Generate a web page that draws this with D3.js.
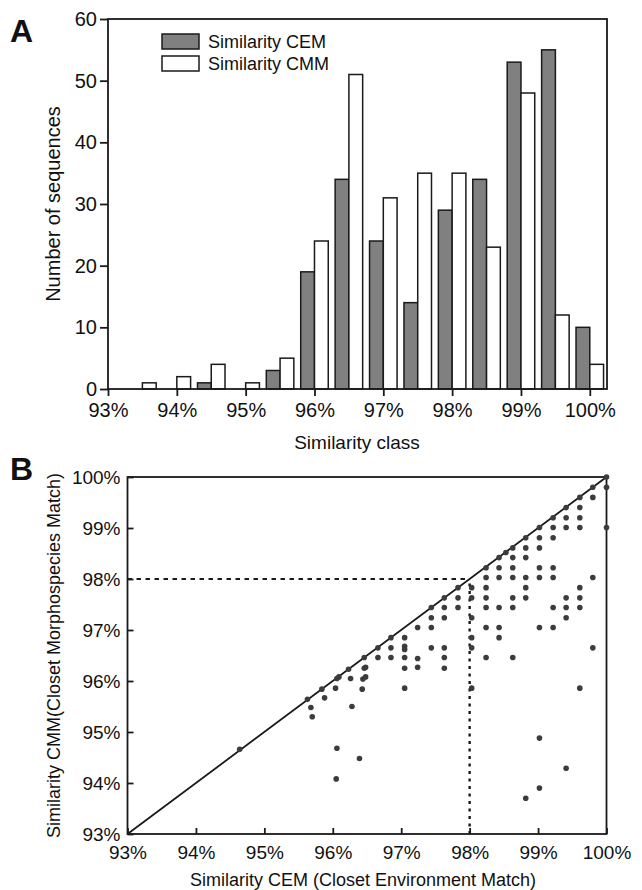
<!DOCTYPE html>
<html>
<head>
<meta charset="utf-8">
<script src="https://cdn.jsdelivr.net/npm/d3@7"></script>
<style>
  body { margin: 0; background: #fff; }
  svg text { font-family: "Liberation Sans", Arial, sans-serif; fill: #111; }
</style>
</head>
<body>
<div id="chart"></div>
<script>
// Panel A: histogram of similarity classes
const classes = [93.5, 94, 94.5, 95, 95.5, 96, 96.5, 97, 97.5, 98, 98.5, 99, 99.5, 100]
const cemCounts = [0, 0, 1, 0, 3, 19, 34, 24, 14, 29, 34, 53, 55, 10]
const cmmCounts = [1, 2, 4, 1, 5, 24, 51, 31, 35, 35, 23, 48, 12, 4]
const countTicks = [0, 10, 20, 30, 40, 50, 60]
const pctTicks = [93, 94, 95, 96, 97, 98, 99, 100]
const seriesNames = ["Similarity CEM", "Similarity CMM"]

// Panel B: CEM vs CMM similarity per sequence (%)
const cemSim = [
  100, 100, 100,
  99.8, 99.8, 99.8, 99.8,
  99.61, 99.61, 99.61, 99.61, 99.61, 99.61, 99.61, 99.61,
  99.41, 99.41, 99.41, 99.41, 99.41, 99.41, 99.41,
  99.22, 99.22, 99.22, 99.22, 99.22, 99.22, 99.22,
  99.02, 99.02, 99.02, 99.02, 99.02, 99.02, 99.02, 99.02,
  98.82, 98.82, 98.82, 98.82, 98.82, 98.82, 98.82,
  98.63, 98.63, 98.63, 98.63, 98.63, 98.63, 98.63,
  98.53,
  98.43, 98.43, 98.43, 98.43, 98.43, 98.43,
  98.24, 98.24, 98.24, 98.24, 98.24, 98.24, 98.24,
  98.03, 98.03, 98.03, 98.03, 98.03, 98.03,
  97.83, 97.83, 97.83,
  97.63, 97.63, 97.63, 97.63, 97.63, 97.63,
  97.44, 97.44, 97.44, 97.44,
  97.24, 97.24, 97.24,
  97.05, 97.05, 97.05, 97.05, 97.05, 97.05,
  96.85, 96.85, 96.85,
  96.66, 96.66,
  96.46, 96.46, 96.48, 96.44, 96.48, 96.43,
  96.39,
  96.23, 96.26, 96.28,
  96.04, 96.06, 96.09, 96.06, 96.05,
  95.84, 95.88,
  95.63, 95.68, 95.7,
  94.64
]
const cmmSim = [
  100, 99.8, 99.01,
  99.8, 99.6, 98.03, 96.65,
  99.6, 99.4, 99.2, 99.01, 97.83, 97.63, 97.44, 95.86,
  99.4, 99.2, 99.01, 97.63, 97.44, 97.24, 94.29,
  99.2, 99.01, 98.81, 98.22, 98.03, 97.44, 97.05,
  99.01, 98.81, 98.61, 98.22, 98.03, 97.05, 94.88, 93.9,
  98.81, 98.61, 98.42, 98.03, 97.83, 97.63, 93.7,
  98.61, 98.42, 98.22, 98.03, 97.63, 97.44, 96.46,
  98.52,
  98.42, 98.22, 98.03, 97.44, 97.05, 96.85,
  98.22, 98.03, 97.83, 97.63, 97.44, 97.05, 96.46,
  97.83, 97.63, 97.24, 96.85, 96.65, 95.86,
  97.83, 97.63, 97.44,
  97.63, 97.44, 97.24, 96.65, 96.46, 96.25,
  97.44, 97.24, 97.05, 96.65,
  97.05, 96.44, 96.27,
  96.85, 96.68, 96.62, 96.46, 96.25, 95.86,
  96.85, 96.65, 96.46,
  96.65, 96.46,
  96.46, 96.25, 96.27, 96.04, 96.08, 95.84,
  94.48,
  96.23, 96.05, 95.5,
  95.86, 96.05, 96.08, 94.68, 94.08,
  95.84, 95.67,
  95.64, 95.48, 95.3,
  94.66
]
const cutoff = 98

const width = 642
const height = 890
const ink = "#1a1a1a"

const svg = d3.select("#chart")
  .append("svg")
  .attr("width", width)
  .attr("height", height)
  .attr("viewBox", [0, 0, width, height])

// ---------- Panel A ----------
const xA = d3.scaleLinear().domain([93, 100.25]).range([108, 607])
const yA = d3.scaleLinear().domain([0, 60]).range([389, 19])
const barW = 0.2

const gA = svg.append("g")

gA.append("g")
  .selectAll("rect")
  .data(classes.map((c, i) => ({c: c, v: cemCounts[i]})).filter(d => d.v > 0))
  .join("rect")
    .attr("x", d => xA(d.c - barW))
    .attr("y", d => yA(d.v))
    .attr("width", d => xA(d.c) - xA(d.c - barW))
    .attr("height", d => yA(0) - yA(d.v))
    .attr("fill", "#808080")
    .attr("stroke", ink)
    .attr("stroke-width", 1.5)

gA.append("g")
  .selectAll("rect")
  .data(classes.map((c, i) => ({c: c, v: cmmCounts[i]})).filter(d => d.v > 0))
  .join("rect")
    .attr("x", d => xA(d.c))
    .attr("y", d => yA(d.v))
    .attr("width", d => xA(d.c + barW) - xA(d.c))
    .attr("height", d => yA(0) - yA(d.v))
    .attr("fill", "#fff")
    .attr("stroke", ink)
    .attr("stroke-width", 1.5)

// frame
gA.append("rect")
  .attr("x", xA.range()[0])
  .attr("y", yA.range()[1])
  .attr("width", xA.range()[1] - xA.range()[0])
  .attr("height", yA.range()[0] - yA.range()[1])
  .attr("fill", "none")
  .attr("stroke", ink)
  .attr("stroke-width", 1.8)

const axA_x = gA.append("g")
  .attr("transform", `translate(0,${yA(0)})`)
  .call(d3.axisBottom(xA).tickValues(pctTicks).tickSize(7).tickPadding(7).tickFormat(d => d + "%"))
const axA_y = gA.append("g")
  .attr("transform", `translate(${xA(93)},0)`)
  .call(d3.axisLeft(yA).tickValues(countTicks).tickSize(8).tickPadding(3))

;[axA_x, axA_y].forEach(a => {
  a.select(".domain").remove()
  a.selectAll(".tick line").attr("stroke", ink).attr("stroke-width", 1.8)
  a.selectAll(".tick text").attr("font-size", 20).attr("fill", ink)
})

gA.append("text")
  .attr("x", 357)
  .attr("y", 449)
  .attr("text-anchor", "middle")
  .attr("font-size", 19)
  .text("Similarity class")

gA.append("text")
  .attr("transform", `translate(60,${(yA(0) + yA(60)) / 2}) rotate(-90)`)
  .attr("text-anchor", "middle")
  .attr("font-size", 20)
  .text("Number of sequences")

// legend
const legend = gA.append("g")
seriesNames.forEach((name, i) => {
  legend.append("rect")
    .attr("x", 162)
    .attr("y", 34 + i * 22)
    .attr("width", 37)
    .attr("height", 15)
    .attr("fill", i === 0 ? "#808080" : "#fff")
    .attr("stroke", ink)
    .attr("stroke-width", 1.5)
  legend.append("text")
    .attr("x", 208)
    .attr("y", 48 + i * 22)
    .attr("font-size", 18)
    .text(name)
})

svg.append("text")
  .attr("x", 10)
  .attr("y", 42)
  .attr("font-size", 32)
  .attr("font-weight", "bold")
  .text("A")

// ---------- Panel B ----------
const xB = d3.scaleLinear().domain([93, 100]).range([127.5, 606.5])
const yB = d3.scaleLinear().domain([93, 100]).range([834, 477])

const gB = svg.append("g")

gB.append("rect")
  .attr("x", xB(93))
  .attr("y", yB(100))
  .attr("width", xB(100) - xB(93))
  .attr("height", yB(93) - yB(100))
  .attr("fill", "none")
  .attr("stroke", ink)
  .attr("stroke-width", 1.8)

const axB_x = gB.append("g")
  .attr("transform", `translate(0,${yB(93)})`)
  .call(d3.axisBottom(xB).tickValues(pctTicks).tickSize(-6).tickPadding(12).tickFormat(d => d + "%"))
const axB_y = gB.append("g")
  .attr("transform", `translate(${xB(93)},0)`)
  .call(d3.axisLeft(yB).tickValues(pctTicks).tickSize(-6).tickPadding(7).tickFormat(d => d + "%"))

;[axB_x, axB_y].forEach(a => {
  a.select(".domain").remove()
  a.selectAll(".tick line").attr("stroke", ink).attr("stroke-width", 1.8)
  a.selectAll(".tick text").attr("font-size", 19).attr("fill", ink)
})

// 1:1 line
gB.append("line")
  .attr("x1", xB(93)).attr("y1", yB(93))
  .attr("x2", xB(100)).attr("y2", yB(100))
  .attr("stroke", ink)
  .attr("stroke-width", 1.8)

// 98% cutoff lines
gB.append("line")
  .attr("x1", xB(93)).attr("y1", yB(cutoff))
  .attr("x2", xB(cutoff)).attr("y2", yB(cutoff))
  .attr("stroke", ink)
  .attr("stroke-width", 2)
  .attr("stroke-dasharray", "4.5,4.5")
gB.append("line")
  .attr("x1", xB(cutoff)).attr("y1", yB(93))
  .attr("x2", xB(cutoff)).attr("y2", yB(cutoff))
  .attr("stroke", ink)
  .attr("stroke-width", 2.4)
  .attr("stroke-dasharray", "3,4.5")

gB.append("g")
  .selectAll("circle")
  .data(cemSim.map((x, i) => [x, cmmSim[i]]))
  .join("circle")
    .attr("cx", d => xB(d[0]))
    .attr("cy", d => yB(d[1]))
    .attr("r", 2.8)
    .attr("fill", "#3c3c3c")

gB.append("text")
  .attr("x", 363)
  .attr("y", 886)
  .attr("text-anchor", "middle")
  .attr("font-size", 18)
  .text("Similarity CEM (Closet Environment Match)")

gB.append("text")
  .attr("transform", `translate(60,${(yB(93) + yB(100)) / 2}) rotate(-90)`)
  .attr("text-anchor", "middle")
  .attr("font-size", 18)
  .text("Similarity CMM(Closet Morphospecies Match)")

svg.append("text")
  .attr("x", 10)
  .attr("y", 480)
  .attr("font-size", 32)
  .attr("font-weight", "bold")
  .text("B")
</script>
</body>
</html>
